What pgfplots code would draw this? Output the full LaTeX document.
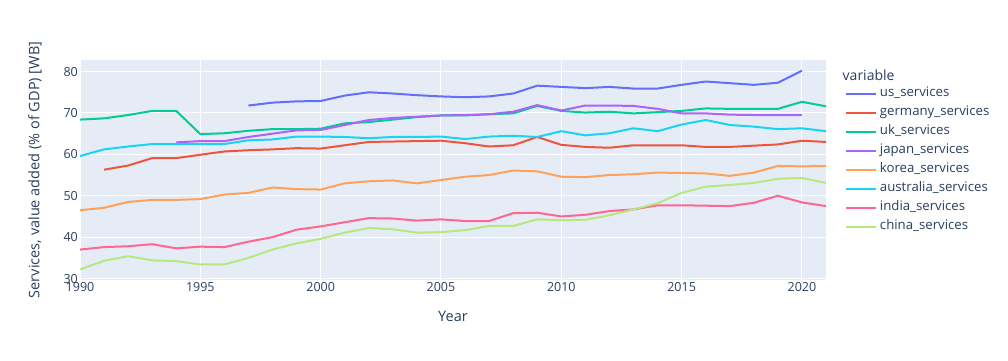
\documentclass[border=0pt]{standalone}
\usepackage{pgfplots}
\pgfplotsset{compat=1.18}
\usepackage{fontspec}
\setmainfont{Open Sans}
\definecolor{txt}{HTML}{2A3F5F}
\definecolor{bg}{HTML}{E5ECF6}
\definecolor{c1}{HTML}{636EFA}
\definecolor{c2}{HTML}{EF553B}
\definecolor{c3}{HTML}{00CC96}
\definecolor{c4}{HTML}{AB63FA}
\definecolor{c5}{HTML}{FFA15A}
\definecolor{c6}{HTML}{19D3F3}
\definecolor{c7}{HTML}{FF6692}
\definecolor{c8}{HTML}{B6E880}
\begin{document}
\begin{tikzpicture}[x=1bp,y=1bp]
\path[fill=white] (0,0) rectangle (1008,360);
\begin{axis}[
  at={(80bp,80bp)}, anchor=south west,
  width=746bp, height=220bp, scale only axis,
  xmin=1990, xmax=2021, ymin=29.65, ymax=82.8,
  axis background/.style={fill=bg},
  axis line style={draw=none},
  grid=major, grid style={white, line width=1bp},
  xtick={1990,1995,...,2020}, ytick={30,40,...,80},
  major tick length=0pt,
  /pgf/number format/assume math mode=true,
  /pgf/number format/1000 sep={},
  ticklabel style={font=\fontsize{12.5bp}{14bp}\selectfont, text=txt, inner sep=2bp},
  xlabel={Year},
  ylabel={Services, value added (\% of GDP) [WB]},
  label style={font=\fontsize{14.5bp}{16bp}\selectfont, text=txt},
  x label style={at={(axis description cs:0.5,-0.1636)}, anchor=center},
  y label style={at={(axis description cs:-0.0603,0.5)}, anchor=center},
  every axis plot/.append style={line width=2bp, line join=round},
  legend cell align=left,
  legend style={draw=none, fill=none, inner sep=0pt, outer sep=0pt,
    at={(axis description cs:1.0254,0.8736)}, anchor=north west,
    font=\fontsize{13.2bp}{15bp}\selectfont, text=txt,
    row sep=7bp, column sep=3bp,
    nodes={inner sep=0pt, text height=9bp, text depth=3bp}},
  legend image code/.code={\draw[#1] (0bp,0bp) -- (30bp,0bp);},
  clip=true,
]
\addplot[c1] coordinates {(1997,71.8)(1998,72.5)(1999,72.8)(2000,72.9)(2001,74.2)(2002,75.0)(2003,74.7)(2004,74.3)(2005,74.0)(2006,73.8)(2007,74.0)(2008,74.7)(2009,76.6)(2010,76.3)(2011,76.0)(2012,76.3)(2013,75.9)(2014,75.9)(2015,76.8)(2016,77.6)(2017,77.2)(2018,76.8)(2019,77.3)(2020,80.2)};
\addlegendentry{us\_services}
\addplot[c2] coordinates {(1991,56.3)(1992,57.3)(1993,59.1)(1994,59.1)(1995,59.9)(1996,60.7)(1997,61.0)(1998,61.2)(1999,61.5)(2000,61.4)(2001,62.2)(2002,63.0)(2003,63.1)(2004,63.2)(2005,63.3)(2006,62.7)(2007,61.9)(2008,62.2)(2009,64.2)(2010,62.3)(2011,61.8)(2012,61.6)(2013,62.2)(2014,62.2)(2015,62.2)(2016,61.8)(2017,61.8)(2018,62.1)(2019,62.4)(2020,63.3)(2021,63.0)};
\addlegendentry{germany\_services}
\addplot[c3] coordinates {(1990,68.4)(1991,68.7)(1992,69.5)(1993,70.5)(1994,70.5)(1995,64.9)(1996,65.1)(1997,65.7)(1998,66.1)(1999,66.1)(2000,66.2)(2001,67.5)(2002,67.8)(2003,68.4)(2004,69.0)(2005,69.4)(2006,69.4)(2007,69.7)(2008,69.9)(2009,71.7)(2010,70.5)(2011,70.1)(2012,70.3)(2013,69.9)(2014,70.2)(2015,70.5)(2016,71.1)(2017,71.0)(2018,71.0)(2019,71.0)(2020,72.7)(2021,71.6)};
\addlegendentry{uk\_services}
\addplot[c4] coordinates {(1994,62.9)(1995,63.2)(1996,63.2)(1997,64.2)(1998,65.0)(1999,65.8)(2000,65.9)(2001,67.1)(2002,68.3)(2003,68.8)(2004,69.1)(2005,69.4)(2006,69.5)(2007,69.7)(2008,70.3)(2009,71.9)(2010,70.6)(2011,71.8)(2012,71.8)(2013,71.7)(2014,71.0)(2015,69.9)(2016,69.9)(2017,69.6)(2018,69.5)(2019,69.5)(2020,69.5)};
\addlegendentry{japan\_services}
\addplot[c5] coordinates {(1990,46.5)(1991,47.1)(1992,48.5)(1993,49.0)(1994,49.0)(1995,49.2)(1996,50.3)(1997,50.7)(1998,52.0)(1999,51.6)(2000,51.5)(2001,53.0)(2002,53.5)(2003,53.7)(2004,53.0)(2005,53.8)(2006,54.6)(2007,55.0)(2008,56.1)(2009,55.9)(2010,54.6)(2011,54.5)(2012,55.0)(2013,55.2)(2014,55.6)(2015,55.5)(2016,55.4)(2017,54.8)(2018,55.6)(2019,57.2)(2020,57.1)(2021,57.2)};
\addlegendentry{korea\_services}
\addplot[c6] coordinates {(1990,59.6)(1991,61.2)(1992,61.9)(1993,62.5)(1994,62.5)(1995,62.5)(1996,62.5)(1997,63.4)(1998,63.6)(1999,64.3)(2000,64.3)(2001,64.2)(2002,63.9)(2003,64.2)(2004,64.2)(2005,64.3)(2006,63.7)(2007,64.3)(2008,64.5)(2009,64.2)(2010,65.6)(2011,64.6)(2012,65.1)(2013,66.3)(2014,65.6)(2015,67.2)(2016,68.3)(2017,67.1)(2018,66.7)(2019,66.1)(2020,66.3)(2021,65.6)};
\addlegendentry{australia\_services}
\addplot[c7] coordinates {(1990,37.0)(1991,37.6)(1992,37.8)(1993,38.3)(1994,37.3)(1995,37.7)(1996,37.6)(1997,38.9)(1998,40.0)(1999,41.8)(2000,42.6)(2001,43.6)(2002,44.6)(2003,44.5)(2004,44.0)(2005,44.3)(2006,43.9)(2007,43.9)(2008,45.8)(2009,45.9)(2010,45.0)(2011,45.4)(2012,46.3)(2013,46.7)(2014,47.7)(2015,47.7)(2016,47.6)(2017,47.5)(2018,48.3)(2019,50.0)(2020,48.4)(2021,47.5)};
\addlegendentry{india\_services}
\addplot[c8] coordinates {(1990,32.2)(1991,34.3)(1992,35.4)(1993,34.4)(1994,34.2)(1995,33.4)(1996,33.4)(1997,35.0)(1998,37.0)(1999,38.5)(2000,39.6)(2001,41.1)(2002,42.2)(2003,41.9)(2004,41.1)(2005,41.2)(2006,41.7)(2007,42.7)(2008,42.7)(2009,44.3)(2010,44.1)(2011,44.2)(2012,45.3)(2013,46.7)(2014,48.2)(2015,50.7)(2016,52.2)(2017,52.6)(2018,53.1)(2019,54.1)(2020,54.3)(2021,53.1)};
\addlegendentry{china\_services}
\end{axis}
\node[anchor=west, inner sep=0pt, text=txt, font=\fontsize{14bp}{16bp}\selectfont] at (842.5,285) {variable};
\end{tikzpicture}
\end{document}
